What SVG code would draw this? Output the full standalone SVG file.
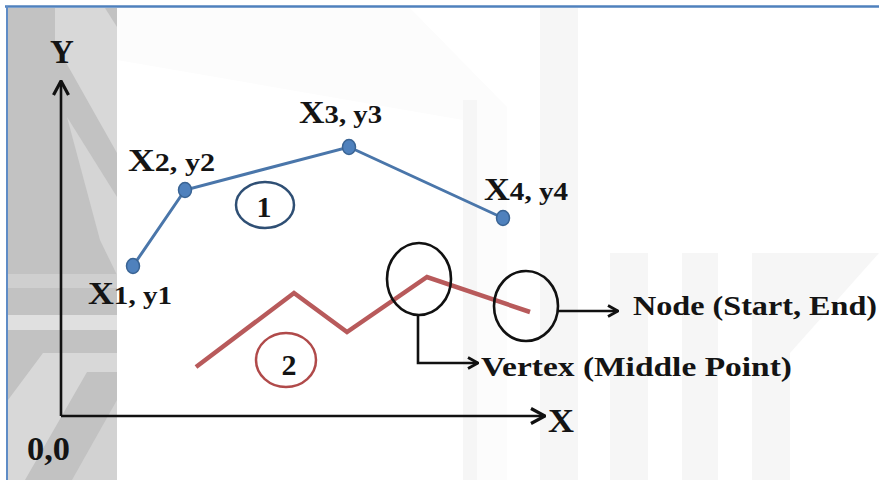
<svg xmlns="http://www.w3.org/2000/svg" width="879" height="480" viewBox="0 0 879 480">
<style>
.lbl{font-family:"Liberation Serif","Times New Roman",serif;font-weight:bold;fill:#141414}
.big{font-size:32px}
.sm{font-size:26px}
.axl{font-size:33px}
.note{font-size:28px}
.num{font-size:30px}
.blk{fill:none;stroke:#111;stroke-width:2.6}
.dot{fill:#4f81bd;stroke:#3a6494;stroke-width:1.5}
.wm{fill:#f6f6f6}
</style>
<defs>
<marker id="ah" viewBox="0 0 12 14" refX="11" refY="7" markerWidth="12" markerHeight="14" markerUnits="userSpaceOnUse" orient="auto">
<path d="M1,1.5 L11,7 L1,12.5" fill="none" stroke="#111" stroke-width="2.8"/>
</marker>
<marker id="axh" viewBox="0 0 16 18" refX="15" refY="9" markerWidth="16" markerHeight="18" markerUnits="userSpaceOnUse" orient="auto">
<path d="M1,1.5 L15,9 L1,16.5" fill="none" stroke="#111" stroke-width="3.2"/>
</marker>
</defs>
<g id="background">
<rect x="0" y="0" width="879" height="480" fill="#ffffff"/>
<polygon points="117,8 410,8 507,107 507,480 463,480 463,120 117,60" fill="#fcfcfc"/>
<rect class="wm" x="463" y="100" width="14" height="380"/>
<rect class="wm" x="540" y="8" width="38" height="472"/>
<rect class="wm" x="610" y="253" width="38" height="227"/>
<rect class="wm" x="682" y="253" width="36" height="227"/>
<rect class="wm" x="752" y="253" width="38" height="227"/>
<polygon class="wm" points="790,253 879,253 790,353"/>
<rect x="8" y="8" width="109" height="472" fill="#c2c2c2"/>
<polygon points="55,8 105,8 117,27 117,153 55,43" fill="#d8d8d8"/>
<polygon points="67,117 117,197 117,275 100,240" fill="#d5d5d5"/>
<rect x="8" y="274" width="109" height="14" fill="#cfcfcf"/>
<rect x="8" y="315" width="109" height="15" fill="#e0e0e0"/>
<polygon points="43,353 117,353 117,372 87,372 25,480 8,480 8,400" fill="#d8d8d8"/>
<polygon points="117,400 117,480 72,480" fill="#d2d2d2"/>
<line x1="5" y1="6.5" x2="879" y2="6.5" stroke="#4f81bd" stroke-width="2.5"/>
<line x1="7" y1="6" x2="7" y2="480" stroke="#5f8cc6" stroke-width="2"/>
</g>
<g id="connectors">
<line class="blk" x1="61" y1="416" x2="61" y2="81" stroke-width="3" marker-end="url(#axh)"/>
<line class="blk" x1="61" y1="416" x2="545" y2="416" stroke-width="3" marker-end="url(#axh)"/>
<polyline points="133,266 185,190 349,147 503,218" fill="none" stroke="#4a76aa" stroke-width="3"/>
<polyline points="196,367 294,293 347,332 427,277 530,312" fill="none" stroke="#b85a5b" stroke-width="4.5" stroke-linejoin="miter"/>
<polyline class="blk" points="418,315 418,363 478,363" marker-end="url(#ah)"/>
<line class="blk" x1="558" y1="311" x2="618" y2="311" marker-end="url(#ah)"/>
</g>
<g id="axis-y"><text class="lbl axl" x="62" y="63" text-anchor="middle">Y</text></g>
<g id="axis-x"><text class="lbl axl" x="548" y="432" textLength="26" lengthAdjust="spacingAndGlyphs">X</text></g>
<g id="origin"><text class="lbl axl" x="27" y="460" textLength="43" lengthAdjust="spacingAndGlyphs">0,0</text></g>
<g id="p1">
<ellipse class="dot" cx="133" cy="266" rx="6.5" ry="7.5"/>
<text class="lbl" x="88" y="304" textLength="84" lengthAdjust="spacingAndGlyphs"><tspan class="big">X</tspan><tspan class="sm">1, y1</tspan></text>
</g>
<g id="p2">
<ellipse class="dot" cx="185" cy="190" rx="6.5" ry="7.5"/>
<text class="lbl" x="128" y="171" textLength="87" lengthAdjust="spacingAndGlyphs"><tspan class="big">X</tspan><tspan class="sm">2, y2</tspan></text>
</g>
<g id="p3">
<ellipse class="dot" cx="349" cy="147" rx="6.5" ry="7.5"/>
<text class="lbl" x="299" y="123" textLength="83" lengthAdjust="spacingAndGlyphs"><tspan class="big">X</tspan><tspan class="sm">3, y3</tspan></text>
</g>
<g id="p4">
<ellipse class="dot" cx="503" cy="218" rx="6.5" ry="7.5"/>
<text class="lbl" x="484" y="200" textLength="84" lengthAdjust="spacingAndGlyphs"><tspan class="big">X</tspan><tspan class="sm">4, y4</tspan></text>
</g>
<g id="line-1-label">
<ellipse cx="265" cy="205" rx="29" ry="23" fill="none" stroke="#2f4f74" stroke-width="2.5"/>
<text class="lbl num" x="264" y="217" text-anchor="middle">1</text>
</g>
<g id="line-2-label">
<ellipse cx="286" cy="360" rx="30" ry="27" fill="none" stroke="#b04a4a" stroke-width="2.5"/>
<text class="lbl num" x="289" y="375" text-anchor="middle">2</text>
</g>
<g id="vertex">
<ellipse class="blk" cx="419" cy="279" rx="32" ry="36"/>
<text class="lbl note" x="481" y="376" textLength="311" lengthAdjust="spacingAndGlyphs">Vertex (Middle Point)</text>
</g>
<g id="node">
<ellipse class="blk" cx="526" cy="306" rx="32" ry="35"/>
<text class="lbl note" x="633" y="315" textLength="244" lengthAdjust="spacingAndGlyphs">Node (Start, End)</text>
</g>
</svg>
